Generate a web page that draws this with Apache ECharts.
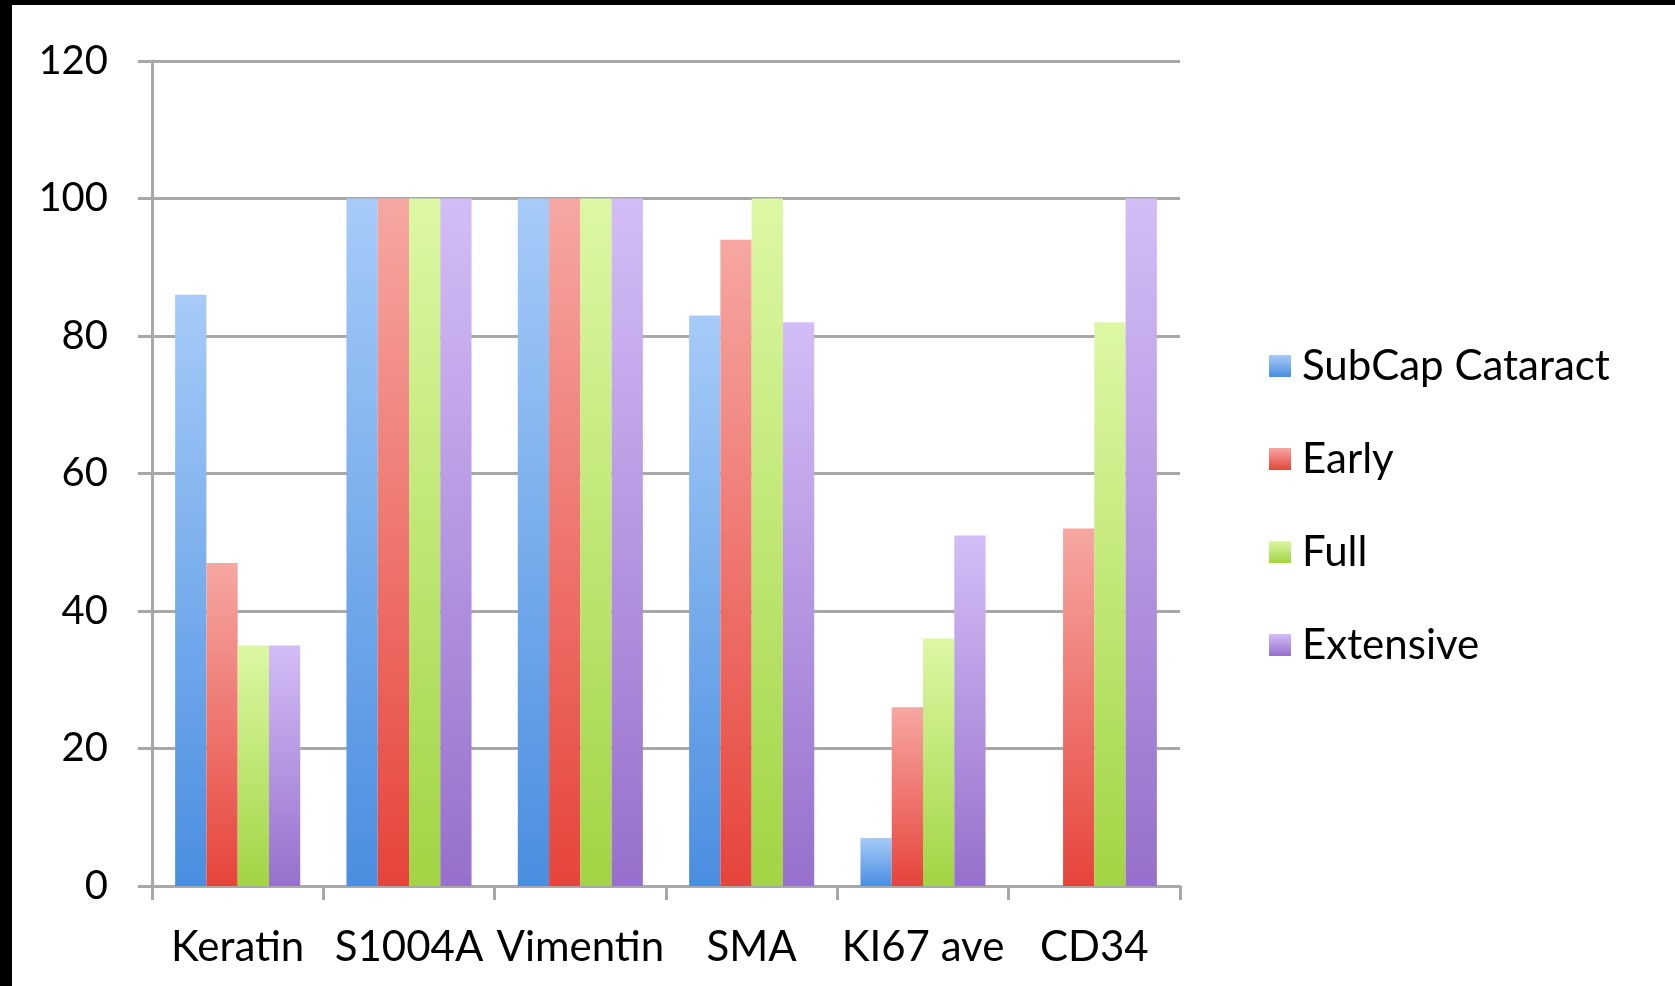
<!DOCTYPE html>
<html>
<head>
<meta charset="utf-8">
<script src="https://cdn.jsdelivr.net/npm/echarts@6/dist/echarts.min.js"></script>
<style>
  html, body { margin: 0; padding: 0; background: #000; }
  #chart { position: absolute; left: 12px; top: 5px; width: 1663px; height: 981px; background: #fff; }
</style>
</head>
<body>
<div id="chart"></div>
<script>
const categories = ['Keratin', 'S1004A', 'Vimentin', 'SMA', 'KI67 ave', 'CD34'];
const seriesNames = ['SubCap Cataract', 'Early', 'Full', 'Extensive'];
const subcap = [86, 100, 100, 83, 7, 0];
const early = [47, 100, 100, 94, 26, 52];
const full = [35, 100, 100, 100, 36, 82];
const extensive = [35, 100, 100, 82, 51, 100];
const yTicks = { min: 0, max: 120, step: 20 };

// light top -> darker bottom, like the old Excel bar fill
const fills = [
  ['#a6cbf8', '#4a8ee0'],
  ['#f6a7a2', '#e6443b'],
  ['#dcf8a4', '#a2d444'],
  ['#d3bdf6', '#9670cc']
];

function grad(pair) {
  return new echarts.graphic.LinearGradient(0, 0, 0, 1, [
    { offset: 0, color: pair[0] },
    { offset: 1, color: pair[1] }
  ]);
}

const gridGray = '#a8a8a8';
const font = 'Lato, "Open Sans", sans-serif';

const chart = echarts.init(document.getElementById('chart'), null, { renderer: 'canvas' });

const values = [subcap, early, full, extensive];

chart.setOption({
  animation: false,
  backgroundColor: '#fff',
  grid: { left: 140, top: 56, right: 495, bottom: 100, containLabel: false },
  legend: {
    orient: 'vertical',
    left: 1257,
    top: 339,
    padding: 0,
    itemWidth: 22,
    itemHeight: 22,
    itemGap: 49,
    icon: 'rect',
    textStyle: { fontFamily: font, fontSize: 42, color: '#000', lineHeight: 44, padding: [0, 0, 0, 6] },
    data: seriesNames
  },
  xAxis: {
    type: 'category',
    data: categories,
    axisLine: { show: true, lineStyle: { color: gridGray, width: 3 } },
    axisTick: { show: true, length: 14, alignWithLabel: false, lineStyle: { color: gridGray, width: 3 } },
    axisLabel: { fontFamily: font, fontSize: 42, color: '#000', margin: 40, interval: 0 }
  },
  yAxis: {
    type: 'value',
    min: yTicks.min,
    max: yTicks.max,
    interval: yTicks.step,
    axisLine: { show: true, lineStyle: { color: gridGray, width: 3 } },
    axisTick: { show: true, length: 14, lineStyle: { color: gridGray, width: 3 } },
    splitLine: { show: true, lineStyle: { color: gridGray, width: 3 } },
    axisLabel: { fontFamily: font, fontSize: 40, color: '#000', margin: 44 }
  },
  series: seriesNames.map((name, i) => ({
    name: name,
    type: 'bar',
    data: values[i],
    barGap: '0%',
    barCategoryGap: '27%',
    itemStyle: { color: grad(fills[i]) },
    emphasis: { disabled: true }
  }))
});
</script>
</body>
</html>
